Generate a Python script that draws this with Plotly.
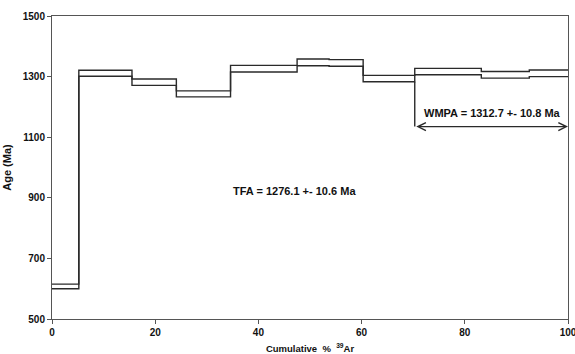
import plotly.graph_objects as go

# Step boundaries (cumulative % 39Ar)
step_edges = [0, 5.2, 15.5, 24.1, 34.6, 47.5, 53.7, 60.3, 70.3, 83.2, 92.5, 100]
# Upper and lower bound of each step age (Ma)
age_high = [615, 1321, 1292, 1253, 1337, 1358, 1356, 1304, 1327, 1317, 1322]
age_low = [600, 1301, 1271, 1233, 1315, 1336, 1334, 1283, 1306, 1295, 1300]

plateau_start = 70.3
plateau_end = 100
plateau_arrow_age = 1135
wmpa_label = "WMPA = 1312.7 +- 10.8 Ma"
tfa_label = "TFA = 1276.1 +- 10.6 Ma"

x_ticks = [0, 20, 40, 60, 80, 100]
y_ticks = [500, 700, 900, 1100, 1300, 1500]

line_col = "#2a2a2a"
font_fam = "Liberation Sans, Arial, sans-serif"

fig = go.Figure()
fig.add_trace(go.Scatter(x=step_edges, y=age_high + [age_high[-1]], mode="lines",
                         line=dict(shape="hv", color=line_col, width=1.4), hoverinfo="skip"))
fig.add_trace(go.Scatter(x=step_edges, y=age_low + [age_low[-1]], mode="lines",
                         line=dict(shape="hv", color=line_col, width=1.4), hoverinfo="skip"))

# vertical line from plateau start down to the arrow
p_idx = step_edges.index(plateau_start)
fig.add_trace(go.Scatter(x=[plateau_start, plateau_start], y=[age_low[p_idx - 1], plateau_arrow_age],
                         mode="lines", line=dict(color=line_col, width=1.4), hoverinfo="skip"))

# double-headed arrow
fig.add_annotation(x=plateau_end, y=plateau_arrow_age, ax=plateau_start, ay=plateau_arrow_age,
                   xref="x", yref="y", axref="x", ayref="y", text="", showarrow=True,
                   arrowhead=5, startarrowhead=5, arrowside="end+start", arrowsize=1.3,
                   arrowwidth=1.2, arrowcolor=line_col)

fig.add_annotation(x=85.4, y=1181, xref="x", yref="y", text="<b>" + wmpa_label + "</b>",
                   showarrow=False, font=dict(family=font_fam, size=11, color="#111"))
fig.add_annotation(x=46.9, y=922, xref="x", yref="y", text="<b>" + tfa_label + "</b>",
                   showarrow=False, font=dict(family=font_fam, size=11, color="#111"))

fig.update_layout(
    width=575, height=354,
    margin=dict(l=52, r=7, t=16, b=35),
    plot_bgcolor="white", paper_bgcolor="white",
    showlegend=False,
    font=dict(family=font_fam, size=10, color="#111"),
    xaxis=dict(range=[0, 100], tickvals=x_ticks, ticktext=["<b>%d</b>" % v for v in x_ticks],
               showgrid=False, zeroline=False, showline=True, mirror=True, automargin=False,
               linecolor="#555", linewidth=1, ticks="outside", ticklen=4, tickcolor="#555",
               tickfont=dict(size=10), ticklabeloverflow="allow",
               title=dict(text="<b>Cumulative  %  <sup>39</sup>Ar</b>", font=dict(size=9.5), standoff=11)),
    yaxis=dict(range=[500, 1500], tickvals=y_ticks, ticktext=["<b>%d</b>" % v for v in y_ticks],
               showgrid=False, zeroline=False, showline=True, mirror=True, automargin=False,
               linecolor="#555", linewidth=1, ticks="outside", ticklen=4, tickcolor="#555",
               tickfont=dict(size=10), ticklabeloverflow="allow",
               title=dict(text="<b>Age (Ma)</b>", font=dict(size=11), standoff=8)),
)

fig.write_html("out.html")
